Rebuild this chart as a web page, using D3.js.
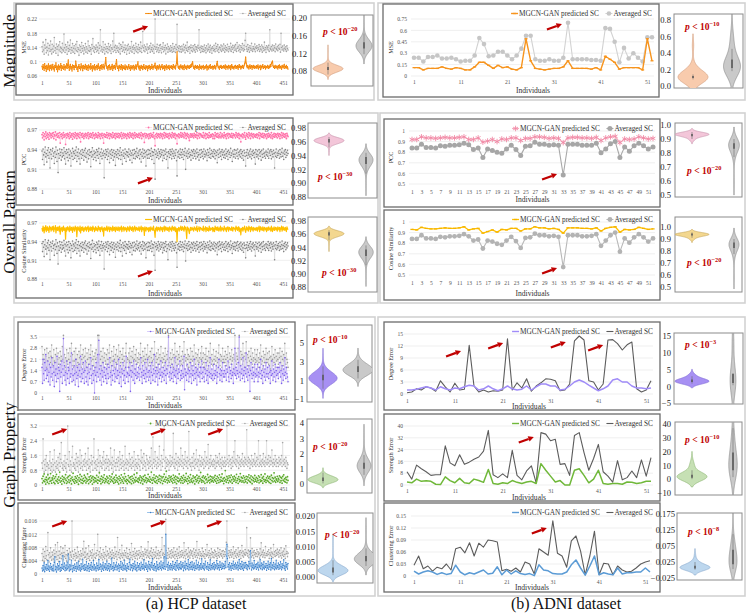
<!DOCTYPE html>
<html><head><meta charset="utf-8">
<script src="https://cdn.jsdelivr.net/npm/d3@7"></script>
<style>body{margin:0;background:#fff}svg{display:block}</style>
</head><body>
<script>
// ===================== DATA =====================
// HCP (460 individuals)
const hcpXTicks=[1,51,101,151,201,251,301,351,401,451];
const hcpMsePred=[.088,.079,.092,.084,.076,.095,.081,.087,.073,.09,.083,.078,.094,.086,.075,.089,.082,.091,.077,.085,
.093,.08,.086,.074,.09,.084,.097,.079,.088,.072,.085,.091,.078,.087,.083,.095,.076,.089,.082,.086,
.079,.092,.085,.077,.088,.083,.094,.081,.09,.105,.084,.076,.087,.093,.08,.086,.074,.091,.083,.089,
.078,.088,.084,.102,.09,.079,.085,.073,.087,.092,.081,.086,.077,.094,.083,.088,.075,.09,.082,.087,
.08,.093,.086,.078,.089,.084,.076,.091,.083,.087,.079,.095,.082,.086,.074,.089,.085,.08,.092,.077,
.086,.083,.09,.078,.087,.094,.081,.085,.076,.089,.082,.091,.079,.086,.093,.084,.08,.088,.096,.112,
.09,.082,.086,.077,.089,.083,.091,.078,.085,.08,.087,.093,.076,.088,.082,.09,.084,.079,.095,.106,
.088,.081,.086,.075,.09,.083,.087,.079,.092,.084,.077,.089,.082,.086,.08,.091,.078,.085,.088,.083,
.079,.087,.092,.081,.085,.076,.089,.084,.08,.088,.083,.09,.077,.086,.082,.091,.079,.087,.093,.1,
.085,.08,.088,.076,.084,.09,.082,.087,.078,.086,.092,.081,.085,.079,.089,.083,.087,.075,.088,.082,
.09,.084,.078,.087,.081,.093,.085,.079,.088,.083,.09,.096,.082,.086,.077,.089,.084,.08,.087,.091,
.083,.078,.088,.085,.092,.08,.086,.082,.089,.076,.087,.083,.091,.079,.085,.088,.082,.09,.078,.086,
.084,.089,.081,.087,.079,.092,.085,.083,.088,.08,.09,.097,.128,.094,.085,.082,.088,.079,.086,.091,
.083,.087,.08,.089,.084,.078,.091,.086,.082,.088,.079,.085,.09,.083,.087,.081,.089,.084,.092,.086,
.095,.1,.088,.082,.086,.079,.09,.084,.087,.081,.089,.083,.086,.078,.091,.085,.082,.088,.08,.087,
.084,.09,.079,.086,.082,.088,.083,.091,.077,.087,.085,.08,.089,.084,.092,.081,.086,.083,.088,.079,
.087,.082,.09,.085,.08,.088,.094,.101,.089,.083,.086,.079,.088,.084,.09,.081,.087,.083,.085,.089,
.082,.086,.091,.079,.088,.084,.087,.08,.09,.085,.083,.089,.078,.086,.092,.082,.087,.084,.08,.088,
.085,.09,.081,.087,.083,.089,.079,.086,.092,.084,.088,.08,.087,.083,.09,.085,.082,.089,.094,.099,
.113,.096,.088,.083,.09,.085,.08,.087,.091,.082,.086,.089,.079,.088,.084,.09,.081,.087,.085,.083,
.089,.082,.087,.091,.08,.086,.084,.09,.078,.088,.083,.087,.092,.081,.086,.084,.089,.08,.087,.085,
.083,.09,.086,.081,.088,.084,.092,.087,.095,.098,.102,.089,.084,.087,.081,.09,.085,.083,.088,.086,
.08,.089,.084,.091,.082,.087,.085,.079,.09,.086,.083,.088,.093,.081,.087,.084,.09,.082,.086,.079];
const hcpMseAvg=[.142,.128,.155,.133,.121,.147,.138,.162,.125,.141,.131,.152,.119,.137,.146,.129,.158,.134,.122,.149,
.136,.127,.144,.168,.131,.139,.124,.15,.135,.143,.118,.147,.133,.156,.128,.141,.137,.125,.152,.134,
.13,.178,.139,.126,.148,.133,.142,.121,.155,.137,.129,.146,.134,.161,.124,.14,.132,.151,.127,.138,
.145,.123,.136,.149,.131,.157,.128,.14,.135,.118,.147,.132,.143,.126,.154,.137,.13,.145,.122,.139,
.133,.151,.127,.142,.136,.124,.158,.131,.145,.129,.14,.134,.121,.148,.137,.165,.13,.143,.126,.139,
.135,.147,.128,.141,.132,.153,.124,.138,.146,.19,.13,.142,.135,.127,.156,.133,.14,.122,.149,.136,
.128,.143,.137,.125,.151,.134,.142,.13,.147,.123,.139,.135,.158,.128,.18,.141,.132,.146,.126,.138,
.144,.131,.139,.127,.152,.135,.122,.148,.137,.143,.129,.155,.133,.14,.126,.147,.134,.138,.121,.145,
.132,.149,.136,.124,.143,.138,.13,.157,.127,.141,.135,.146,.123,.139,.133,.152,.128,.142,.136,.125,
.148,.134,.14,.129,.155,.137,.126,.144,.185,.139,.131,.147,.128,.142,.136,.133,.15,.124,.141,.135,
.138,.145,.127,.152,.134,.14,.129,.147,.136,.124,.143,.22,.135,.141,.128,.149,.133,.139,.126,.146,
.131,.148,.137,.125,.142,.135,.153,.128,.14,.133,.146,.122,.139,.136,.15,.127,.143,.134,.138,.129,
.145,.132,.14,.127,.151,.136,.129,.143,.138,.126,.148,.134,.205,.141,.13,.137,.145,.128,.142,.135,
.127,.144,.136,.13,.149,.133,.141,.125,.146,.138,.132,.155,.129,.14,.135,.143,.124,.139,.147,.131,
.14,.128,.145,.136,.132,.148,.127,.142,.135,.141,.13,.146,.138,.19,.133,.14,.126,.144,.137,.129,
.143,.135,.128,.147,.132,.139,.125,.145,.136,.13,.15,.134,.141,.127,.146,.133,.138,.124,.142,.137,
.131,.146,.134,.128,.152,.137,.143,.13,.148,.135,.126,.141,.139,.133,.147,.129,.144,.136,.132,.15,
.138,.127,.145,.134,.14,.131,.149,.136,.128,.143,.137,.133,.152,.129,.141,.135,.146,.126,.139,.144,
.132,.148,.136,.129,.154,.138,.142,.131,.147,.135,.127,.145,.14,.133,.151,.137,.13,.146,.134,.16,
.18,.143,.136,.129,.148,.134,.14,.127,.145,.138,.132,.152,.136,.129,.143,.137,.134,.15,.128,.141,
.137,.145,.131,.14,.135,.148,.129,.143,.136,.133,.147,.127,.142,.138,.131,.155,.134,.14,.126,.145,
.136,.141,.133,.146,.129,.19,.138,.134,.143,.13,.147,.136,.132,.145,.139,.128,.15,.137,.134,.142,
.131,.146,.138,.135,.149,.127,.18,.14,.133,.144,.136,.13,.147,.138,.134,.142,.129,.145,.137,.133];
const hcpPccPred=[.963,.958,.966,.961,.955,.964,.96,.967,.957,.962,.965,.959,.963,.956,.966,.961,.964,.958,.962,.965,
.96,.966,.957,.963,.961,.967,.955,.962,.964,.959,.965,.961,.958,.966,.95,.963,.96,.964,.957,.962,
.966,.959,.963,.961,.948,.964,.958,.962,.965,.96,.963,.957,.966,.961,.959,.964,.962,.956,.965,.96,
.963,.958,.966,.961,.964,.957,.962,.965,.96,.963,.958,.966,.952,.962,.964,.959,.965,.961,.957,.963,
.96,.965,.962,.958,.964,.961,.966,.957,.963,.96,.965,.959,.962,.964,.958,.966,.961,.963,.957,.962,
.965,.959,.963,.961,.958,.966,.962,.96,.964,.957,.963,.961,.965,.958,.962,.95,.964,.96,.963,.959,
.962,.966,.958,.963,.961,.965,.957,.962,.964,.96,.963,.958,.966,.961,.959,.964,.962,.957,.965,.96,
.963,.959,.965,.961,.958,.964,.962,.96,.966,.957,.963,.961,.965,.958,.962,.964,.96,.963,.957,.962,
.965,.96,.963,.958,.966,.961,.964,.959,.962,.965,.957,.963,.961,.966,.958,.962,.964,.96,.963,.959,
.962,.965,.958,.963,.961,.966,.957,.962,.964,.96,.963,.951,.965,.961,.958,.964,.962,.96,.963,.957,
.964,.961,.958,.965,.962,.96,.963,.959,.966,.961,.957,.946,.963,.96,.965,.958,.962,.964,.96,.963,
.958,.965,.962,.96,.964,.957,.963,.961,.966,.958,.962,.965,.96,.963,.959,.964,.961,.957,.965,.962,
.96,.963,.958,.966,.961,.964,.959,.962,.965,.957,.963,.961,.949,.962,.96,.964,.958,.963,.961,.966,
.959,.962,.965,.96,.963,.958,.966,.961,.964,.957,.962,.965,.96,.963,.958,.954,.961,.964,.959,.962,
.964,.96,.962,.958,.965,.961,.963,.959,.962,.966,.957,.962,.961,.965,.958,.963,.964,.961,.962,.959,
.961,.966,.958,.962,.961,.965,.957,.963,.964,.959,.962,.958,.966,.961,.959,.963,.962,.96,.964,.957,
.963,.961,.957,.966,.962,.96,.964,.959,.965,.961,.958,.963,.96,.966,.958,.961,.964,.96,.962,.958,
.966,.962,.96,.963,.957,.964,.961,.965,.958,.963,.964,.96,.962,.959,.965,.961,.958,.964,.962,.961,
.963,.958,.966,.961,.964,.959,.962,.965,.957,.963,.961,.952,.962,.96,.964,.958,.963,.961,.966,.959,
.956,.962,.965,.96,.963,.958,.966,.961,.964,.957,.962,.965,.96,.963,.958,.964,.961,.96,.963,.959,
.962,.964,.958,.963,.961,.966,.957,.962,.965,.96,.963,.959,.965,.961,.958,.964,.962,.96,.963,.957,
.964,.961,.959,.965,.962,.96,.963,.958,.966,.961,.957,.963,.96,.965,.959,.962,.964,.96,.963,.958,
.965,.962,.96,.964,.957,.963,.961,.966,.958,.962,.965,.96,.963,.959,.964,.961,.957,.965,.962,.96];
const hcpPccAvg=[.938,.925,.941,.932,.917,.936,.944,.929,.934,.921,.939,.931,.943,.927,.936,.912,.94,.933,.926,.938,
.942,.93,.935,.919,.937,.928,.944,.933,.922,.939,.905,.934,.927,.941,.931,.936,.924,.94,.929,.935,
.931,.943,.926,.937,.918,.934,.94,.928,.936,.923,.941,.932,.927,.938,.915,.935,.93,.942,.925,.937,
.934,.927,.939,.931,.944,.922,.936,.93,.941,.926,.935,.918,.938,.933,.927,.94,.931,.936,.924,.939,
.93,.942,.928,.935,.921,.938,.933,.926,.94,.931,.936,.914,.937,.929,.943,.932,.925,.938,.934,.928,
.936,.923,.94,.931,.937,.927,.942,.933,.919,.936,.93,.941,.926,.935,.931,.938,.897,.934,.928,.94,
.932,.937,.925,.941,.93,.935,.92,.938,.933,.927,.94,.931,.936,.924,.939,.929,.934,.916,.937,.932,
.928,.94,.934,.926,.938,.931,.943,.925,.936,.932,.918,.939,.93,.935,.927,.941,.933,.922,.937,.931,
.936,.929,.941,.933,.924,.938,.931,.935,.92,.939,.932,.927,.94,.934,.926,.937,.93,.942,.928,.935,
.931,.938,.926,.94,.933,.921,.936,.93,.941,.927,.934,.939,.929,.936,.915,.938,.932,.927,.94,.933,
.927,.939,.934,.93,.942,.925,.937,.931,.936,.919,.94,.895,.933,.938,.928,.935,.931,.941,.926,.937,
.934,.929,.94,.932,.936,.923,.939,.931,.927,.938,.933,.941,.925,.936,.93,.912,.937,.934,.928,.94,
.932,.937,.926,.941,.934,.93,.938,.927,.935,.931,.94,.923,.9,.936,.929,.938,.933,.927,.941,.932,
.936,.928,.94,.933,.925,.937,.931,.942,.91,.935,.93,.938,.927,.934,.941,.929,.936,.932,.924,.939,
.931,.937,.927,.94,.934,.93,.938,.926,.935,.941,.929,.936,.932,.924,.939,.933,.928,.94,.935,.93,
.937,.926,.941,.933,.929,.938,.932,.935,.923,.94,.931,.936,.928,.942,.933,.927,.939,.934,.93,.937,
.929,.94,.934,.926,.938,.931,.936,.92,.939,.933,.928,.941,.935,.93,.937,.925,.94,.932,.936,.928,
.938,.932,.927,.941,.934,.93,.937,.925,.939,.933,.936,.928,.942,.931,.935,.922,.938,.933,.929,.94,
.933,.927,.939,.935,.93,.941,.926,.936,.932,.938,.929,.94,.934,.927,.937,.931,.924,.939,.935,.93,
.915,.936,.931,.94,.927,.935,.932,.938,.929,.941,.933,.926,.937,.931,.939,.934,.928,.936,.918,.94,
.933,.929,.938,.932,.926,.94,.935,.93,.937,.924,.939,.933,.928,.941,.934,.93,.936,.927,.938,.932,
.936,.93,.941,.927,.935,.938,.931,.94,.926,.937,.933,.929,.939,.934,.912,.936,.93,.941,.928,.935,
.931,.938,.934,.927,.94,.933,.929,.936,.942,.93,.935,.925,.938,.933,.94,.928,.936,.931,.939,.934];
const hcpCosPred=[.962,.957,.965,.96,.954,.963,.959,.966,.956,.961,.964,.958,.962,.955,.965,.96,.963,.957,.961,.964,
.959,.965,.956,.962,.96,.966,.954,.961,.963,.958,.964,.96,.957,.965,.952,.962,.959,.963,.956,.961,
.965,.958,.962,.96,.944,.963,.957,.961,.964,.959,.962,.956,.965,.96,.958,.963,.961,.955,.964,.959,
.962,.957,.965,.96,.963,.948,.961,.964,.959,.962,.957,.965,.954,.961,.963,.958,.964,.96,.956,.962,
.959,.964,.961,.957,.963,.96,.965,.956,.962,.959,.964,.958,.961,.963,.957,.965,.96,.962,.956,.961,
.964,.958,.962,.96,.957,.965,.961,.959,.963,.956,.962,.96,.964,.957,.961,.949,.963,.959,.962,.958,
.961,.965,.957,.962,.96,.964,.956,.961,.963,.959,.962,.957,.965,.96,.958,.963,.961,.956,.964,.959,
.962,.958,.964,.96,.957,.963,.961,.959,.965,.956,.962,.96,.964,.957,.961,.963,.959,.962,.956,.961,
.964,.959,.962,.957,.965,.96,.963,.958,.961,.964,.956,.962,.96,.965,.957,.961,.963,.959,.962,.958,
.961,.964,.957,.962,.96,.965,.956,.961,.963,.959,.962,.95,.964,.96,.957,.963,.961,.959,.962,.956,
.963,.96,.957,.964,.961,.959,.962,.958,.965,.96,.956,.947,.962,.959,.964,.957,.961,.963,.959,.962,
.957,.964,.961,.959,.963,.956,.962,.96,.965,.957,.961,.964,.959,.962,.958,.963,.96,.956,.964,.961,
.959,.962,.957,.965,.96,.963,.958,.961,.964,.956,.962,.96,.94,.961,.959,.963,.957,.962,.96,.965,
.958,.961,.964,.959,.962,.957,.965,.96,.963,.956,.945,.964,.959,.962,.957,.953,.96,.963,.958,.961,
.963,.959,.961,.957,.964,.96,.962,.958,.961,.965,.956,.961,.96,.964,.957,.962,.963,.96,.961,.958,
.96,.965,.957,.961,.96,.964,.956,.962,.963,.958,.961,.957,.965,.96,.958,.962,.961,.959,.963,.956,
.962,.96,.956,.965,.961,.959,.963,.958,.964,.96,.957,.962,.959,.965,.957,.96,.963,.959,.961,.957,
.965,.961,.959,.962,.956,.963,.96,.964,.957,.962,.963,.959,.961,.958,.964,.96,.957,.963,.961,.96,
.962,.957,.965,.96,.963,.958,.961,.964,.956,.962,.96,.951,.961,.959,.963,.957,.962,.96,.965,.958,
.955,.961,.964,.959,.962,.957,.965,.96,.963,.956,.962,.964,.959,.962,.957,.963,.96,.959,.962,.958,
.961,.963,.957,.962,.96,.965,.956,.961,.964,.959,.962,.958,.964,.96,.957,.963,.961,.959,.962,.956,
.963,.96,.958,.964,.961,.959,.962,.957,.965,.96,.956,.962,.959,.964,.958,.961,.963,.959,.962,.957,
.964,.961,.959,.963,.956,.962,.96,.965,.957,.961,.964,.959,.962,.958,.963,.96,.956,.964,.961,.959];
const hcpCosAvg=[.937,.924,.94,.931,.916,.935,.943,.928,.933,.92,.938,.93,.942,.926,.935,.911,.939,.932,.925,.937,
.941,.929,.934,.918,.936,.927,.943,.932,.921,.938,.904,.933,.926,.94,.93,.935,.923,.939,.928,.934,
.93,.942,.925,.936,.917,.933,.939,.927,.935,.922,.94,.931,.926,.937,.914,.934,.929,.941,.924,.936,
.933,.926,.938,.93,.943,.921,.935,.929,.94,.925,.934,.917,.937,.932,.926,.939,.93,.935,.923,.938,
.929,.941,.927,.934,.92,.937,.932,.925,.939,.93,.935,.913,.936,.928,.942,.931,.924,.937,.933,.927,
.935,.922,.939,.93,.936,.926,.941,.932,.918,.935,.929,.94,.925,.934,.93,.937,.896,.933,.927,.939,
.931,.936,.924,.94,.929,.934,.919,.937,.932,.926,.939,.93,.935,.923,.938,.928,.933,.915,.936,.931,
.927,.939,.933,.925,.937,.93,.942,.924,.935,.931,.917,.938,.929,.934,.926,.94,.932,.921,.936,.93,
.935,.928,.94,.932,.923,.937,.93,.934,.919,.938,.931,.926,.939,.933,.925,.936,.929,.941,.927,.934,
.93,.937,.925,.939,.932,.92,.935,.929,.94,.926,.933,.938,.928,.935,.914,.937,.931,.926,.939,.932,
.926,.938,.933,.929,.941,.924,.936,.93,.935,.918,.939,.894,.932,.937,.927,.934,.93,.94,.925,.936,
.933,.928,.939,.931,.935,.922,.938,.93,.926,.937,.932,.94,.924,.935,.929,.911,.936,.933,.927,.939,
.931,.936,.925,.94,.933,.929,.937,.926,.934,.93,.939,.922,.899,.935,.928,.937,.932,.926,.94,.931,
.935,.927,.939,.932,.924,.936,.93,.941,.909,.934,.929,.937,.926,.933,.94,.928,.935,.931,.923,.938,
.93,.936,.926,.939,.933,.929,.937,.925,.934,.94,.928,.935,.931,.923,.938,.932,.927,.939,.934,.929,
.936,.925,.94,.932,.928,.937,.931,.934,.922,.939,.93,.935,.927,.941,.932,.926,.938,.933,.929,.936,
.928,.939,.933,.925,.937,.93,.935,.919,.938,.932,.927,.94,.934,.929,.936,.924,.939,.931,.935,.927,
.937,.931,.926,.94,.933,.929,.936,.924,.938,.932,.935,.927,.941,.93,.934,.921,.937,.932,.928,.939,
.932,.926,.938,.934,.929,.94,.925,.935,.931,.937,.928,.939,.933,.926,.936,.93,.923,.938,.934,.929,
.914,.935,.93,.939,.926,.934,.931,.937,.928,.94,.932,.925,.936,.93,.938,.933,.927,.935,.917,.939,
.932,.928,.937,.931,.925,.939,.934,.929,.936,.923,.938,.932,.927,.94,.933,.929,.935,.926,.937,.931,
.935,.929,.94,.926,.934,.937,.93,.939,.925,.936,.932,.928,.938,.933,.911,.935,.929,.94,.927,.934,
.93,.937,.933,.926,.939,.932,.928,.935,.941,.929,.934,.924,.937,.932,.939,.927,.935,.93,.938,.933];
const hcpDegPred=[1.6,.6,2.1,1.2,.8,1.9,1.4,2.4,.9,1.5,1.1,2,.7,1.3,1.8,.5,1.6,1,2.2,1.2,
.8,1.7,1.3,.4,1.9,1.1,1.5,.7,2.3,1.2,.9,1.6,1.4,.1,1.8,1,1.3,2,.6,1.5,
3.4,1.1,1.7,.8,1.3,.5,2,1.2,.9,1.6,1.4,.6,1.9,1,1.2,2.5,.7,1.5,1.1,.8,
1.7,1.2,.5,2.1,1.3,.9,1.6,1.1,.4,1.8,1.4,1,2.3,.7,1.2,1.5,.9,1.9,1.3,.6,
1.4,2,1,.7,1.6,1.2,.5,1.8,1.3,.9,1.5,2.2,1.1,.6,1.7,1.2,.8,1.4,0,1.6,
1.1,1.9,.7,1.3,2.4,1,3.3,1.5,.8,1.2,1.7,.5,1.4,1,1.9,.7,1.3,1.6,1.1,.9,
1.5,.6,1.8,1.2,.9,1.6,2.2,1,1.3,.5,1.7,1.1,.8,1.4,2,1.2,.7,1.5,1,1.8,
.9,1.4,1.1,2.1,.6,1.3,1.7,1,.4,1.5,1.2,1.9,.8,1.4,1.1,.6,1.6,2.3,1,1.3,
1.2,.7,1.6,1.1,1.9,.1,1.4,1,1.7,1.3,.8,2,1.2,.6,1.5,1.1,1.8,.9,1.3,1,
1.6,1.2,.8,1.5,2.2,1,1.3,.6,1.7,1.1,1.4,.9,1.9,1.2,.7,1.5,1,2.1,1.3,.8,
1.4,1,1.7,.6,1.3,1.9,1.1,.8,1.5,1.2,2.4,.7,1.4,1,1.6,1.2,.5,1.8,1.3,.9,
1.5,1.1,2,.7,1.3,1,1.6,1.2,.8,1.4,1.9,1.1,.6,1.5,1.2,1.7,3.5,1,1.3,.8,
1.6,1.2,.9,1.8,1.3,.7,1.5,1.1,2.2,1,1.4,.6,1.7,1.2,.9,1.5,1.3,2,.8,1.1,
1.4,.9,1.7,1.2,1,2.3,.2,1.5,1.1,1.3,.8,1.8,1.2,1.5,.7,1.4,1,1.9,1.2,.6,
1.7,1.1,1.4,.8,2.1,1.2,.9,1.6,1.3,.5,1.5,1.1,1.8,1,1.3,.7,1.6,1.2,2,.9,
1.3,1.6,1,.7,1.5,1.2,1.9,.8,1.4,1.1,.6,1.7,1.3,1,2.2,1.2,.9,1.5,1.1,.8,
1.8,1.2,.9,1.4,1.1,1.7,.6,1.3,1,1.6,2.1,1.2,.8,1.5,1.1,1.4,.7,1.9,1.2,1,
1.4,1,1.7,1.2,.8,1.5,1.3,2,1,.7,1.6,1.2,1.4,.9,1.8,1.1,1.3,.6,1.5,1.2,
2.8,1.1,1.6,.9,1.4,1.2,1.9,1,3.5,1.3,.8,1.7,1.2,1.5,.9,2.2,1.1,1.4,.7,1.6,
1.2,2.5,1,1.5,.8,1.3,1.7,1.1,.1,1.4,1.9,1.2,.9,1.6,1.1,1.3,.7,1.8,1.2,1,
1.5,1.1,1.8,.7,1.3,1,1.6,1.2,2.1,.9,1.4,1.1,.6,1.7,1.3,1,1.5,.8,1.9,1.2,
1,1.6,1.2,.9,1.7,1.3,.6,1.4,1.1,2,1.2,.8,1.5,1,1.3,1.8,.7,1.4,1.1,1.6,
1.2,.9,1.6,1.3,1.9,1,1.4,.6,1.7,1.2,.8,1.5,1.1,2.2,1.3,.9,1.6,1.2,1,.7];
const hcpDegAvg=[2.9,1.8,2.4,1.5,2.1,2.7,1.9,2.3,1.6,2.8,2,1.4,2.5,2.2,1.7,2.6,1.9,2.3,3,1.8,
2.2,1.6,2.7,2,1.3,2.4,1.9,2.8,1.5,2.1,2.5,1.8,2.2,1.2,2.6,2,2.3,1.7,2.9,2.1,
3.6,1.9,2.4,1.6,2.2,1.4,2.7,2,1.8,2.5,2.1,1.5,2.8,1.9,2.3,3.1,1.7,2.4,2,1.6,
2.6,2,1.4,2.8,2.1,1.7,2.4,1.9,1.2,2.6,2.2,1.8,3,1.6,2.1,2.4,1.8,2.7,2.2,1.5,
2.3,2.8,1.9,1.6,2.5,2.1,1.4,2.7,2.2,1.8,2.4,3,2,1.5,2.6,2.1,1.7,2.3,1.3,2.5,
2.1,2.7,1.6,2.2,3.6,1.9,3.6,2.4,1.7,2.1,2.6,1.5,2.3,1.9,2.8,1.6,2.2,2.5,2,1.8,
2.4,1.5,2.7,2.1,1.8,2.5,3,1.9,2.2,1.4,2.6,2,1.7,2.3,2.9,2.1,1.6,2.4,1.9,2.7,
1.8,2.3,2,3,1.5,2.2,2.6,1.9,1.3,2.4,2.1,2.8,1.7,2.3,2,1.5,2.5,3.1,1.9,2.2,
2.1,1.6,2.5,2,2.8,1.4,2.3,1.9,2.6,2.2,1.7,2.9,2.1,1.5,2.4,2,2.7,1.8,2.2,1.9,
2.5,2.1,1.7,2.4,3.1,1.9,2.2,1.5,2.6,2,2.3,1.8,2.8,2.1,1.6,2.4,1.9,3,2.2,1.7,
2.3,1.9,2.6,1.5,2.2,2.8,2,1.7,2.4,2.1,3.2,1.6,2.3,1.9,2.5,2.1,1.4,2.7,2.2,1.8,
2.4,2,2.9,1.6,2.2,1.9,2.5,2.1,1.7,2.3,2.8,2,1.5,2.4,2.1,2.6,3.6,1.9,2.2,1.7,
2.5,2.1,1.8,2.7,2.2,1.6,2.4,2,3.1,1.9,2.3,1.5,2.6,2.1,1.8,2.4,2.2,2.9,1.7,2,
2.3,1.8,2.6,2.1,1.9,3.2,1.5,2.4,2,2.2,1.7,2.7,2.1,2.4,1.6,2.3,1.9,2.8,2.1,1.5,
2.6,2,2.3,1.7,3,2.1,1.8,2.5,2.2,1.4,2.4,2,2.7,1.9,2.2,1.6,2.5,2.1,2.9,1.8,
2.2,2.5,1.9,1.6,2.4,2.1,2.8,1.7,2.3,2,1.5,2.6,2.2,1.9,3.1,2.1,1.8,2.4,2,1.7,
2.7,2.1,1.8,2.3,2,2.6,1.5,2.2,1.9,2.5,3,2.1,1.7,2.4,2,2.3,1.6,2.8,2.1,1.9,
2.3,1.9,2.6,2.1,1.7,2.4,2.2,2.9,1.9,1.6,2.5,2.1,2.3,1.8,2.7,2,2.2,1.5,2.4,2.1,
3.6,2,2.5,1.8,2.3,2.1,2.8,1.9,3.6,2.2,1.7,2.6,2.1,2.4,1.8,3.1,2,2.3,1.6,2.5,
2.1,3.2,1.9,2.4,1.7,2.2,2.6,2,1.5,2.3,2.8,2.1,1.8,2.5,2,2.2,1.6,2.7,2.1,1.9,
2.4,2,2.7,1.6,2.2,1.9,2.5,2.1,3,1.8,2.3,2,1.5,2.6,2.2,1.9,2.4,1.7,2.8,2.1,
1.9,2.5,2.1,1.8,2.6,2.2,1.5,2.3,2,2.9,2.1,1.7,2.4,1.9,2.2,2.7,1.6,2.3,2,2.5,
2.1,1.8,2.5,2.2,2.8,1.9,2.3,1.5,2.6,2.1,1.7,2.4,2,3.1,2.2,1.8,2.5,2.1,1.9,1.6];
const hcpStrPred=[.35,.12,.48,.22,.6,.18,.3,.05,.42,.27,.15,.55,.33,.08,.4,.2,.62,.25,.1,.38,
.28,.5,.14,.36,.07,.45,.24,.58,.19,.32,.1,.44,.26,.7,.16,.37,.22,.05,.48,.3,
.2,.41,.12,.33,.56,.25,.09,.39,.17,.46,.28,.13,.52,.22,.35,.06,.43,.27,.64,.18,
.31,.1,.45,.23,.37,.15,.5,.28,.04,.4,.21,.57,.3,.12,.47,.26,.09,.36,.19,.53,
.24,.42,.11,.34,.2,.6,.27,.08,.44,.31,.16,.5,.23,.38,.05,.46,.29,.14,.4,.22,
.36,.18,.52,.27,.1,.43,.25,.66,.21,.34,.07,.48,.3,.15,.41,.24,.55,.12,.35,.2,
.29,.46,.13,.38,.22,.08,.5,.32,.17,.44,.26,.6,.19,.35,.1,.42,.28,.15,.53,.24,
.4,.16,.33,.06,.47,.25,.37,.12,.55,.28,.2,.43,.1,.34,.62,.23,.45,.18,.3,.08,
.26,.51,.19,.39,.14,.44,.3,.07,.48,.22,.36,.12,.57,.27,.17,.41,.24,.65,.2,.33,
.15,.38,.27,.5,.11,.42,.23,.34,.06,.46,.29,.18,.53,.25,.4,.13,.35,.22,.58,.3,
.21,.44,.16,.32,.7,.26,.1,.4,.28,.55,.19,.37,.14,.48,.24,.09,.43,.31,.2,.52,
.33,.13,.47,.25,.39,.08,.45,.21,.59,.3,.17,.42,.75,.27,.12,.36,.23,.5,.16,.4,
.28,.46,.2,.35,.11,.54,.26,.4,.15,.48,.3,.07,.43,.22,.37,.18,.6,.25,.33,.12,
.45,.24,.38,.1,.52,.29,.17,.41,.26,.63,.2,.34,.08,.47,.23,.39,.14,.56,.28,.19,
.36,.13,.49,.22,.4,.06,.44,.3,.18,.53,.25,.37,.11,.46,.21,.35,.68,.27,.15,.42,
.24,.5,.17,.38,.09,.45,.28,.33,.14,.57,.22,.41,.26,.12,.48,.3,.19,.44,.23,.36,
.16,.43,.27,.52,.2,.35,.1,.47,.25,.39,.13,.55,.29,.18,.42,.24,.6,.21,.34,.08,
.4,.22,.78,.31,.15,.46,.26,.37,.12,.5,.23,.41,.17,.54,.28,.1,.44,.33,.2,.48,
.27,.39,.14,.58,.24,.35,.09,.45,.3,.19,.62,.25,.42,.16,.37,.22,.5,.13,.4,.28,
.18,.47,.32,.11,.44,.26,.55,.2,.38,.15,.49,.29,.07,.43,.24,.36,.17,.52,.3,.21,
.41,.16,.35,.25,.5,.12,.43,.28,.19,.56,.23,.38,.1,.46,.3,.2,.6,.27,.14,.39,
.25,.48,.2,.37,.13,.45,.31,.09,.53,.24,.4,.17,.35,.66,.22,.42,.15,.33,.27,.47,
.19,.36,.28,.5,.14,.43,.23,.38,.1,.47,.26,.55,.2,.34,.16,.41,.29,.12,.45,.25];
const hcpStrAvg=[1.2,.9,2.5,1.3,.7,1.1,1.4,.8,1.6,1,1.2,.6,1.1,.9,1.3,1.8,.8,1.2,1,.7,
1.4,1.1,.8,1.9,1.2,.7,1,1.3,.9,1.1,1.5,.8,1.2,1.7,1,1.4,2.3,1.2,.9,1.1,
.8,1.3,1,1.6,.9,1.2,.7,1.4,3.2,1.1,1,1.8,.8,1.3,1.1,.7,1.5,2.1,1,1.2,
1.1,.9,1.4,.8,1.7,1.2,1,1.5,.7,1.3,1.1,1.9,.9,1.2,1.6,1,.8,1.3,1.1,1.4,
1,1.7,1.2,.8,1.3,1.1,2,.9,1.4,1,.7,1.2,1.6,1.1,1.3,.8,1.5,2.5,1.2,.9,
1.3,1.1,.8,1.4,1,1.9,1.2,.7,1.6,1.3,1,1.2,.9,1.5,1.1,1.8,1.3,.8,1.2,1.4,
.9,1.6,1.2,1,1.4,.8,1.3,1.1,2,1.2,.9,1.5,1.1,.7,1.3,1.9,1,1.2,.8,1.4,
1.2,1,1.5,1.3,.8,1.8,1.1,1.4,.9,1.2,1.6,1,1.3,.8,1.1,2.1,1.2,.9,1.4,1.1,
1.3,.8,1.2,1.7,1,1.4,1.1,.9,1.5,1.2,1,1.3,1.8,.8,1.1,1.4,1,1.2,.9,1.6,
1.1,1.4,1,.8,1.3,1.9,1.2,1.5,.9,1.1,1.7,1.3,1,1.2,.8,1.6,1.4,1.1,1.3,.9,
1.2,1.5,1,1.3,2,1.1,.9,2.6,1.2,1.4,1,1.8,1.3,1.1,.9,1.5,1.2,1,1.4,2.1,
1.1,1.3,.8,1.6,1.2,1,1.4,1.9,3.2,1.3,.9,1.5,1.2,1,1.4,1.1,1.3,.8,1.2,1.6,
1,1.3,1.1,1.5,1.2,2.8,1,1.4,.9,1.2,1.7,1.1,1.3,.8,1.5,1.2,1,1.4,1.1,2,
1.3,1,1.6,1.2,.9,1.4,1.1,1.8,1.3,1,1.2,1.5,.9,1.3,2.9,1.1,1.4,1,1.2,.8,
1.5,1.2,1,1.7,1.3,.9,1.4,1.1,1.9,1.2,1,1.4,1.3,.8,1.6,1.1,1.3,1,1.5,1.2,
1.1,1.4,.9,1.3,1.8,1,1.2,1.5,1.1,1.3,2.2,.9,1.2,1.4,1,1.6,1.2,1.1,1.3,1,
1.4,1.1,1.3,.9,1.6,1.2,1,1.5,1.2,1.3,1.1,1.7,1,1.4,1.2,.9,1.5,1.1,1.3,1,
1.2,1.5,1,1.3,1.1,3.2,1.4,1.2,1,1.6,1.3,1.1,1.4,.9,1.2,1.5,1,1.3,1.8,1.2,
2.4,1.1,1.4,1,1.3,1.6,1.2,.9,1.5,1.1,1.3,1,1.4,1.2,1.7,1.1,1.3,1,1.5,1.2,
1.4,1.1,3,1.3,1,1.5,1.2,1.4,.9,1.3,1.1,1.6,1.2,1,1.4,1.3,1.1,1.7,1.2,1,
1.3,1.5,1.1,1.4,2.4,1,1.2,1.6,1.1,1.3,1,1.4,1.2,1.7,1.1,1.3,1,1.5,1.2,2.4,
1.1,1.4,1.2,1.6,1,1.3,1.5,1.1,1.3,1.9,1.2,1,1.4,1.2,1.1,1.6,1.3,1,1.4,1.2,
1.2,1,1.5,1.3,1.1,1.4,1.2,1.6,1,2.3,1.3,1.1,1.4,1.2,1,1.5,1.3,.9,1.2,1.1];
const hcpCluPred=[.0018,.0009,.0026,.0012,.0034,.0007,.0021,.0015,.0029,.0011,.0017,.0041,.0013,.0024,.0008,.0019,.0032,.0014,.0022,.001,
.0016,.0027,.0009,.0035,.0052,.0013,.0023,.0006,.0019,.0031,.0012,.0025,.0015,.0038,.0008,.002,.0011,.0029,.0017,.0055,
.0014,.0022,.0033,.001,.0018,.0027,.0012,.0036,.0016,.006,.0021,.0009,.0028,.0013,.0024,.0042,.0015,.0007,.0026,.0019,
.0011,.003,.0017,.0023,.0008,.0034,.0015,.0021,.0039,.0012,.0026,.0018,.0009,.0031,.0014,.0022,.0045,.0016,.0025,.0011,
.0029,.0013,.0019,.0037,.001,.0024,.0016,.0032,.0008,.002,.0027,.0014,.0035,.0011,.0023,.0018,.0041,.0012,.0028,.0016,
.0021,.0009,.0033,.0017,.0026,.0012,.0044,.0019,.0014,.003,.0022,.0008,.0027,.0015,.0036,.0011,.0024,.0019,.0031,.0013,
.0018,.0039,.0011,.0025,.0016,.0032,.0009,.0022,.0028,.0014,.0048,.0017,.0023,.001,.0034,.0019,.0013,.0027,.0021,.0036,
.0012,.0024,.0017,.003,.0008,.0026,.0019,.0038,.0014,.0021,.0033,.0011,.0027,.0016,.0042,.0013,.0025,.0018,.0009,.0031,
.0017,.0023,.0014,.0035,.0045,.0012,.0028,.0019,.0026,.001,.0032,.0016,.0022,.0039,.0013,.0027,.0018,.0009,.0034,.002,
.0025,.0013,.0031,.0018,.0011,.0036,.0022,.0015,.0029,.0017,.0043,.0012,.0024,.002,.0033,.0014,.0027,.0008,.0021,.0038,
.0016,.0029,.0012,.0024,.0035,.0019,.0047,.0014,.0026,.0011,.0031,.0018,.0023,.0009,.0037,.0015,.0028,.002,.0013,.0033,
.0022,.0017,.0039,.0012,.0027,.0019,.0034,.0016,.0052,.0023,.0014,.012,.0048,.0021,.0029,.0011,.0036,.0018,.0025,.0013,
.0031,.0019,.0026,.0012,.0038,.0017,.0022,.0029,.0014,.0035,.0011,.0024,.0041,.0018,.0027,.0013,.0032,.002,.0016,.0037,
.0015,.0028,.0021,.0034,.001,.0025,.0018,.0039,.0013,.0026,.0032,.0016,.0023,.0044,.0012,.0029,.0019,.0035,.0014,.0022,
.0037,.0013,.0027,.0019,.0033,.0011,.0024,.0017,.0042,.0015,.0028,.002,.0036,.0012,.0025,.0018,.0031,.0014,.0046,.0019,
.0024,.0016,.0032,.0012,.0027,.0039,.0018,.0023,.0014,.0034,.0021,.0011,.0029,.0017,.0043,.0013,.0026,.0019,.0031,.0015,
.0022,.0035,.0013,.0028,.0018,.0024,.0041,.0015,.0031,.0019,.0026,.0012,.0037,.002,.0027,.0014,.0033,.0017,.0023,.003,
.0016,.0025,.0038,.0019,.0054,.009,.0047,.0021,.0029,.0013,.0034,.0018,.0024,.0011,.0032,.0017,.0026,.0039,.0014,.0028,
.0021,.0033,.0015,.0027,.0019,.0036,.0012,.0025,.0044,.0017,.0031,.0014,.0022,.0038,.0016,.0028,.0011,.0034,.0019,.0024,
.0035,.0017,.0029,.0013,.0026,.0022,.0038,.0016,.0031,.007,.0024,.0012,.0033,.0019,.0027,.0015,.0041,.0018,.0023,.0029,
.0014,.0031,.0019,.0036,.0012,.0027,.0021,.0044,.0016,.0025,.0033,.0013,.0029,.0018,.0037,.0015,.0024,.002,.0032,.0011,
.0026,.0018,.0039,.0014,.0029,.0021,.0034,.0012,.0047,.0019,.0027,.0016,.0035,.0023,.0013,.003,.0018,.0042,.0015,.0025,
.002,.0033,.0014,.0028,.0017,.0037,.0022,.0013,.0031,.0019,.0026,.0043,.0016,.0024,.0011,.0035,.0021,.0029,.0015,.0032];
const hcpCluAvg=[.0062,.0041,.0075,.0052,.0038,.0068,.0047,.0083,.0055,.0043,.0071,.0125,.0058,.0036,.0064,.0049,.0079,.0053,.0042,.0066,
.0057,.0045,.0072,.0039,.0061,.0088,.0051,.0067,.0044,.0095,.0056,.0037,.0069,.0048,.0059,.0082,.0046,.0063,.0054,.0078,
.0043,.0065,.0052,.0086,.0047,.0058,.0039,.0071,.0055,.0062,.0048,.0077,.0044,.0066,.0057,.0051,.016,.0069,.0046,.0059,
.0053,.0074,.0041,.0063,.0056,.0048,.0081,.0052,.0067,.0038,.0059,.0045,.007,.0054,.0062,.0043,.0076,.0057,.0099,.0049,
.0066,.0051,.0078,.0044,.0058,.0062,.0047,.0085,.0053,.0041,.0069,.0056,.0064,.0048,.0073,.0055,.0042,.006,.0089,.005,
.0047,.0063,.0055,.0071,.012,.0058,.0044,.0067,.0052,.0079,.0048,.0061,.0056,.0043,.0074,.0051,.0065,.0046,.0058,.0083,
.0054,.0042,.0069,.0057,.0062,.0048,.0076,.0053,.0066,.0045,.0059,.0072,.0049,.0064,.0055,.0047,.0081,.006,.0052,.0068,
.0044,.011,.0058,.0065,.005,.0073,.0046,.0061,.0055,.0087,.0049,.0063,.0057,.0042,.0071,.0056,.0064,.0051,.0078,.0047,
.0062,.0053,.0046,.0074,.0058,.0065,.0049,.0092,.0056,.0044,.0068,.0059,.0052,.0077,.0047,.0063,.0055,.0069,.0045,.006,
.0057,.0071,.0048,.0064,.0053,.0082,.0059,.0046,.0067,.0054,.0061,.0043,.0075,.0058,.0066,.0049,.0072,.0055,.0097,.0051,
.0063,.0047,.0069,.0056,.0078,.0052,.0065,.0045,.0073,.0058,.0049,.0066,.0054,.0081,.0047,.0062,.0057,.0071,.0046,.0064,
.0055,.0068,.0049,.0074,.011,.0057,.0063,.0048,.0085,.0059,.0052,.0165,.0071,.0056,.0064,.0047,.0077,.0058,.0051,.0069,
.0062,.0048,.0073,.0055,.0066,.0051,.0079,.0057,.0046,.0068,.0059,.0053,.0075,.0047,.0063,.0056,.0082,.0049,.0067,.0058,
.0052,.0071,.0057,.0064,.0049,.0094,.0055,.0068,.0046,.0073,.0058,.0062,.0051,.0079,.0054,.0066,.0048,.0072,.0057,.0063,
.0069,.0054,.0047,.0076,.0058,.0065,.0051,.0072,.0056,.0098,.0049,.0063,.0057,.0074,.0046,.0067,.0055,.0061,.0052,.0078,
.0056,.0068,.0052,.0061,.0047,.0073,.0059,.0054,.0089,.0057,.0064,.0049,.0071,.0055,.0062,.0048,.0076,.0058,.0066,.0051,
.0064,.0049,.0072,.0057,.0068,.0053,.0061,.0047,.0078,.0056,.0065,.0051,.0074,.0058,.0062,.0054,.0069,.0048,.0071,.0059,
.0053,.0067,.0058,.0075,.0096,.016,.0084,.0062,.0055,.0071,.0049,.0066,.0057,.0073,.0051,.0064,.0058,.0082,.0047,.0063,
.0068,.0054,.0073,.0049,.0062,.0057,.0079,.0052,.0066,.0058,.0071,.0047,.0064,.0086,.0055,.0069,.0051,.0063,.0058,.0074,
.0057,.0065,.014,.0062,.0054,.0072,.0049,.0068,.0059,.0109,.0063,.0051,.0077,.0056,.0066,.0048,.0071,.0058,.0064,.0053,
.0061,.0074,.0052,.0067,.0058,.0063,.0048,.0076,.0055,.0094,.0059,.0066,.0051,.0072,.0057,.0064,.0049,.0083,.0056,.0062,
.0055,.0068,.0059,.0073,.0047,.0064,.0057,.0078,.0052,.0066,.0061,.0049,.0089,.0058,.0067,.0053,.0071,.0056,.0063,.0075,
.0058,.0066,.0051,.0072,.0062,.0055,.0079,.0048,.0064,.0057,.0069,.0053,.0076,.0059,.0047,.0085,.0061,.0068,.0052,.0063];

// ADNI (52 individuals)
const adniXTicks=[1,11,21,31,41,51];
const adniXTicksOdd=[1,3,5,7,9,11,13,15,17,19,21,23,25,27,29,31,33,35,37,39,41,43,45,47,49,51];
const adniMsePred=[.11,.11,.08,.1,.1,.1,.12,.1,.09,.11,.1,.08,.08,.12,.18,.18,.14,.1,.14,.11,.12,.09,.08,.11,.49,.2,.1,.09,.08,.09,.1,.1,.12,.2,.1,.1,.1,.1,.09,.11,.08,.26,.22,.18,.09,.11,.11,.11,.11,.08,.49,.2];
const adniMseAvg=[.24,.24,.19,.25,.25,.27,.23,.23,.24,.22,.19,.2,.2,.27,.5,.42,.26,.27,.32,.32,.27,.22,.27,.36,.53,.53,.22,.2,.2,.22,.2,.2,.24,.7,.22,.22,.22,.22,.21,.21,.2,.63,.62,.45,.18,.37,.23,.3,.24,.19,.51,.51];
const adniPccPred=[.92,.92,.945,.935,.935,.93,.935,.94,.935,.935,.94,.945,.92,.92,.935,.895,.905,.92,.9,.925,.92,.935,.935,.91,.93,.93,.945,.945,.94,.93,.935,.93,.89,.935,.94,.94,.935,.935,.93,.94,.91,.935,.945,.95,.89,.925,.92,.925,.945,.935,.925,.93];
const adniPccAvg=[.84,.84,.875,.845,.845,.84,.86,.855,.865,.865,.87,.885,.87,.825,.84,.75,.83,.815,.8,.79,.83,.865,.825,.77,.855,.86,.895,.875,.875,.865,.87,.865,.585,.875,.875,.875,.865,.865,.865,.885,.795,.83,.88,.9,.75,.85,.81,.86,.885,.86,.83,.85];
const adniCosPred=[.93,.925,.95,.94,.935,.935,.94,.945,.94,.94,.945,.955,.925,.935,.94,.895,.91,.925,.905,.93,.925,.94,.94,.915,.935,.935,.955,.945,.945,.935,.94,.93,.895,.945,.945,.945,.94,.94,.935,.945,.915,.94,.95,.955,.905,.93,.925,.93,.95,.94,.93,.935];
const adniCosAvg=[.84,.84,.875,.845,.845,.84,.86,.855,.865,.865,.87,.885,.865,.825,.835,.75,.825,.815,.795,.785,.825,.86,.82,.755,.85,.855,.89,.875,.875,.865,.87,.86,.575,.875,.875,.875,.865,.865,.87,.885,.775,.825,.875,.9,.72,.845,.805,.855,.885,.855,.815,.845];
const adniDegPred=[1,1,1.2,1.5,1.8,1.5,1,1.8,1.3,1,1.5,1.3,1.8,2.2,2,1,1.3,2,1.3,.8,1.3,2,1.3,1,1.2,2,1,1.8,2.5,2.5,2,2,1,1.2,2,3,3.5,3,2.2,1.5,.8,1.3,2,3.5,3.8,3,3,2,1.5,1.5,1.3,1.5];
const adniDegAvg=[.3,.5,1.3,1,1.8,1.5,.7,3.3,1.8,.5,2.7,1,1.2,12.2,2,.5,1,.5,.8,.7,1,13.8,1,2.8,1.5,3.8,.7,2,2.8,3.8,3.7,3.3,.8,1,2.5,13.3,14.5,13.5,3.3,3,1,2.5,13.5,13.6,12.6,11,12.3,13,1.3,.5,1,3.3];
const adniStrPred=[2,1.5,4,2.5,2.8,2.5,.5,.3,5.5,3,1.5,4.5,1.5,1,4,3,1.8,10.5,1,.5,1.5,1,3,1.8,1,2,2.5,1,14.5,10,6,2,3,0,0,10,11,6.5,1.5,4,10,1,.5,1,1,.5,2,1.8,1,1.5,2.5,2.5];
const adniStrAvg=[9,4,13.5,11,9,6.5,7,7,26.5,15,13,20.5,14,15.5,17.5,19,23,37,7,5,7.5,5,23.5,6.5,3.5,9.5,13,1.5,35.5,34.5,30,31,14,14.5,6.5,33.5,35.5,22,10,18,27.5,9,6,2,16.5,3.5,5,9.5,5,17,6,18.5];
const adniCluPred=[.012,.005,.01,.013,.01,.004,.008,.004,.006,.027,.01,.003,.008,.005,.01,.015,.005,.007,.023,.003,.015,.005,.013,.006,.004,.006,.001,.028,.015,.013,.006,.005,.005,.01,.028,.04,.02,.002,.025,.05,.003,.008,.005,.003,.02,.005,.008,.008,.01,.01,.02,.01];
const adniCluAvg=[.027,.05,.018,.025,.012,.022,.018,.03,.015,.068,.072,.058,.083,.05,.082,.072,.09,.088,.085,.013,.017,.012,.02,.01,.035,.03,.005,.068,.06,.052,.138,.057,.05,.022,.088,.1,.062,.003,.05,.112,.003,.032,.03,.003,.025,.015,.01,.012,.02,.03,.035,.038];

// Axis tick values
const hcpMseTicks=[0.06,0.1,0.14,0.18,0.22];
const hcpPatTicks=[0.88,0.91,0.94,0.97];
const hcpDegTicks=[0,0.7,1.4,2.1,2.8,3.5];
const hcpStrTicks=[0,0.8,1.6,2.4,3.2];
const hcpCluTicks=[0,0.004,0.008,0.012,0.016];
const adniMseTicks=[0,0.15,0.3,0.45,0.6,0.75];
const adniPatTicks=[0.5,0.6,0.7,0.8,0.9,1];
const adniDegTicks=[0,3,6,9,12,15];
const adniStrTicks=[0,8,16,24,32,40];
const adniCluTicks=[0,0.03,0.06,0.09,0.12,0.15];
// violin axes ticks
const vHcpMseTicks=[0.08,0.12,0.16,0.20];
const vAdniMseTicks=[0,0.2,0.4,0.6,0.8];
const vHcpPatTicks=[0.88,0.90,0.92,0.94,0.96,0.98];
const vAdniPatTicks=[0.5,0.6,0.7,0.8,0.9,1.0];
const vHcpDegTicks=[-1,1,3,5];
const vHcpStrTicks=[0,1,2,3,4];
const vHcpCluTicks=[0,0.005,0.01,0.015,0.02];
const vAdniDegTicks=[-5,0,5,10,15];
const vAdniStrTicks=[-10,0,10,20,30,40];
const vAdniCluTicks=[-0.025,0.025,0.075,0.125,0.175];
// p-value exponents (p < 10^-k)
const hcpPExp=[20,30,30,10,20,20];   // MSE, PCC, Cos, Degree, Strength, Clustering
const adniPExp=[10,20,20,3,10,8];
// arrow annotations [individual, value]
const hcpMseArrows=[[199,0.2]];
const hcpPccArrows=[[208,0.897]];
const hcpCosArrows=[[208,0.893]];
const hcpStrArrows=[[48,3.04],[232,3.04],[339,3.04]];
const hcpCluArrows=[[48,0.016],[232,0.016],[337,0.016]];
const adniMseArrows=[[32.7,0.684]];
const adniPccArrows=[[31.7,0.594]];
const adniCosArrows=[[31.7,0.566]];
const adniDegArrows=[[12.3,10.75],[21.1,12.75],[34.2,13],[42,12.25]];
const adniStrArrows=[[27.5,32.5]];
const adniCluArrows=[[29.7,0.12]];

// ===================== DRAWING =====================
const W=747,H=614;
const SERIF="'Liberation Serif','Times New Roman',Times,serif";
const RED="#c00000";
const svg=d3.select("body").append("svg").attr("width",W).attr("height",H);
svg.append("rect").attr("width",W).attr("height",H).attr("fill","#fff");

const frames=[[14,3,360,97],[378,3,367,97],[14,113,364,190],[380,113,365,190],[14,317,361,279],[378,317,367,279]];
svg.selectAll(null).data(frames).join("rect")
  .attr("x",d=>d[0]).attr("y",d=>d[1]).attr("width",d=>d[2]).attr("height",d=>d[3])
  .attr("fill","none").attr("stroke","#d2d2d2").attr("stroke-width",1.6);

[["Magnitude",51],["Overall Pattern",222],["Graph Property",455]].forEach(([t,cy])=>{
  svg.append("text").attr("transform",`translate(9,${cy}) rotate(-90)`).attr("text-anchor","middle")
    .attr("dominant-baseline","central").attr("font-family",SERIF).attr("font-size",17).attr("fill","#111").text(t);
});
svg.append("text").attr("x",196).attr("y",609).attr("text-anchor","middle").attr("font-family",SERIF).attr("font-size",16).attr("fill","#111").text("(a) HCP dataset");
svg.append("text").attr("x",566).attr("y",609).attr("text-anchor","middle").attr("font-family",SERIF).attr("font-size",16).attr("fill","#111").text("(b) ADNI dataset");

function marker(g,m,cx,cy,s){
  if(!m) return;
  if(m==="c") g.append("circle").attr("cx",cx).attr("cy",cy).attr("r",s.mr).attr("fill",s.mc);
  else if(m==="d") g.append("line").attr("x1",cx-s.mr).attr("x2",cx+s.mr).attr("y1",cy).attr("y2",cy).attr("stroke",s.mc).attr("stroke-width",1.3);
  else if(m==="a") g.append("path").attr("transform",`translate(${cx},${cy})`).attr("d",d3.symbol(d3.symbolAsterisk,s.mr*s.mr*4)()).attr("fill","none").attr("stroke",s.mc).attr("stroke-width",0.9);
}
function drawSeries(g,data,x,y,s){
  const line=d3.line().x((d,i)=>x(i+1)).y(d=>y(d));
  g.append("path").attr("d",line(data)).attr("fill","none").attr("stroke",s.lc).attr("stroke-width",s.lw).attr("stroke-linejoin","round");
  if(s.m){
    const mg=g.append("g");
    data.forEach((d,i)=>marker(mg,s.m,x(i+1),y(d),s));
  }
}
function arrow(g,tx,ty){
  const sx=tx-15, sy=ty+5.5, ang=Math.atan2(ty-sy,tx-sx), hl=5.5, hw=2.8;
  const ex=tx-hl*Math.cos(ang), ey=ty-hl*Math.sin(ang);
  const px=-Math.sin(ang), py=Math.cos(ang);
  g.append("line").attr("x1",sx).attr("y1",sy).attr("x2",ex).attr("y2",ey).attr("stroke",RED).attr("stroke-width",2.2);
  g.append("polygon").attr("points",[[tx,ty],[ex+hw*px,ey+hw*py],[ex-hw*px,ey-hw*py]].map(p=>p.join(",")).join(" ")).attr("fill",RED);
}

function lineChart(o){
  const g=svg.append("g");
  const [bx0,by0,bx1,by1]=o.box;
  g.append("rect").attr("x",bx0).attr("y",by0).attr("width",bx1-bx0).attr("height",by1-by0)
    .attr("fill","#fff").attr("stroke","#6b6b6b").attr("stroke-width",1.3);
  const n=Math.max(o.pred.data.length,o.avg.data.length);
  const x=d3.scaleLinear().domain([1,n]).range(o.xr);
  const y=d3.scaleLinear().domain(o.yd).range(o.yr);
  g.append("g").selectAll("line").data(o.yTicks).join("line")
    .attr("x1",o.xr[0]-3).attr("x2",o.xr[1]+2).attr("y1",d=>y(d)).attr("y2",d=>y(d))
    .attr("stroke","#e4e4e4").attr("stroke-width",0.6);
  const ya=g.append("g").attr("transform",`translate(${o.tickRight},0)`)
    .call(d3.axisLeft(y).tickValues(o.yTicks).tickSize(0).tickPadding(0).tickFormat(d=>String(d)));
  ya.select(".domain").remove();
  ya.attr("font-family",SERIF).attr("font-size",5.6).selectAll("text").attr("fill","#555");
  const xa=g.append("g").attr("transform",`translate(0,${o.xLab-4})`)
    .call(d3.axisBottom(x).tickValues(o.xTicks).tickSize(0).tickPadding(0).tickFormat(d=>String(d)));
  xa.select(".domain").remove();
  xa.attr("font-family",SERIF).attr("font-size",5.6).selectAll("text").attr("fill","#555");
  g.append("text").attr("x",o.indX||(o.xr[0]+o.xr[1])/2).attr("y",o.indY).attr("text-anchor","middle")
    .attr("font-family",SERIF).attr("font-size",7.6).attr("fill","#333").text("Individuals");
  g.append("text").attr("transform",`translate(${o.ytX},${(o.yr[0]+o.yr[1])/2}) rotate(-90)`).attr("text-anchor","middle")
    .attr("dominant-baseline","central").attr("font-family",SERIF).attr("font-size",6.2).attr("fill","#333").text(o.ytitle);
  drawSeries(g,o.avg.data,x,y,o.avg.s);
  drawSeries(g,o.pred.data,x,y,o.pred.s);
  const ly=by0+9.5, lg=g.append("g").attr("font-family",SERIF).attr("font-size",7.3).attr("fill","#333");
  const tAvg=lg.append("text").attr("x",bx1-7).attr("y",ly).attr("dy","0.33em").attr("text-anchor","end").text("Averaged SC");
  const wA=tAvg.node().getComputedTextLength();
  const mA=bx1-7-wA-4.5;
  lg.append("line").attr("x1",mA-3.5).attr("x2",mA+3.5).attr("y1",ly).attr("y2",ly).attr("stroke",o.avg.s.lc).attr("stroke-width",Math.min(o.avg.s.lw,1.2));
  marker(lg,o.avg.s.m,mA,ly,o.avg.s);
  const tP=lg.append("text").attr("x",mA-10).attr("y",ly).attr("dy","0.33em").attr("text-anchor","end").text("MGCN-GAN predicted SC");
  const wP=tP.node().getComputedTextLength();
  const mP=mA-10-wP-4.5;
  lg.append("line").attr("x1",mP-3.5).attr("x2",mP+3.5).attr("y1",ly).attr("y2",ly).attr("stroke",o.pred.s.lc).attr("stroke-width",Math.min(o.pred.s.lw,1.4));
  marker(lg,o.pred.s.m,mP,ly,o.pred.s);
  (o.arrows||[]).forEach(([i,v])=>arrow(g,x(i),y(v)));
}

let clipId=0;
function violin(o){
  const g=svg.append("g");
  const [bx0,by0,bx1,by1]=o.box;
  g.append("rect").attr("x",bx0).attr("y",by0).attr("width",bx1-bx0).attr("height",by1-by0)
    .attr("fill","#fff").attr("stroke","#8c8c8c").attr("stroke-width",1);
  const y=d3.scaleLinear().domain(o.yd).range(o.yr);
  const ya=g.append("g").attr("transform",`translate(${o.tickRight},0)`)
    .call(d3.axisLeft(y).tickValues(o.ticks).tickSize(0).tickPadding(0).tickFormat(d3.format(o.fmt)));
  ya.select(".domain").remove();
  ya.attr("font-family",SERIF).attr("font-size",8.6).selectAll("text").attr("fill","#222");
  const id="vc"+(clipId++);
  g.append("clipPath").attr("id",id).append("rect").attr("x",bx0).attr("y",by0).attr("width",bx1-bx0).attr("height",by1-by0);
  const vg=g.append("g").attr("clip-path",`url(#${id})`);
  const sets=o.sets.map(s=>{
    const v=s.data, nn=v.length, bw=o.bwf*d3.deviation(v)*Math.pow(nn,-0.2);
    const lo=d3.min(v)-2*bw, hi=d3.max(v)+2*bw;
    const pts=d3.range(121).map(k=>{const t=lo+(hi-lo)*k/120;
      return [t,d3.mean(v,u=>Math.exp(-0.5*((t-u)/bw)**2))/(bw*Math.sqrt(2*Math.PI))];});
    return {...s,pts,bw};
  });
  const maxD=d3.max(sets,s=>d3.max(s.pts,p=>p[1]));
  const ws=o.hw/maxD;
  sets.forEach(s=>{
    const area=d3.area().y(p=>y(p[0])).x0(p=>s.cx-p[1]*ws).x1(p=>s.cx+p[1]*ws).curve(d3.curveBasis);
    vg.append("path").attr("d",area(s.pts)).attr("fill",s.fill).attr("stroke",s.stroke).attr("stroke-width",0.7);
    const sorted=s.data.slice().sort(d3.ascending);
    const q1=d3.quantileSorted(sorted,0.25), q3=d3.quantileSorted(sorted,0.75), iqr=q3-q1;
    const wlo=d3.min(sorted.filter(v=>v>=q1-1.5*iqr)), whi=d3.max(sorted.filter(v=>v<=q3+1.5*iqr));
    vg.append("line").attr("x1",s.cx).attr("x2",s.cx).attr("y1",y(wlo)).attr("y2",y(whi)).attr("stroke","#6a6a6a").attr("stroke-width",0.6);
    vg.append("line").attr("x1",s.cx).attr("x2",s.cx).attr("y1",y(q1)).attr("y2",y(q3)).attr("stroke","#555").attr("stroke-width",1.5);
  });
  const t=g.append("text").attr("x",o.px).attr("y",o.py).attr("fill",RED).attr("font-family",SERIF).attr("font-weight","bold").attr("font-size",9.5);
  t.append("tspan").attr("font-style","italic").text("p");
  t.append("tspan").text(" < 10");
  t.append("tspan").attr("font-size",6.3).attr("dy",-4).text("\u2212"+o.exp);
}

const S={
  hMseP:{lc:"#f7941d",lw:1.1,m:"c",mr:0.6,mc:"#ef7f00"},
  hMseA:{lc:"#d8d8d8",lw:0.7,m:"c",mr:0.8,mc:"#a0a0a0"},
  hPccP:{lc:"#ffc4da",lw:0.6,m:"c",mr:0.9,mc:"#ff6fa8"},
  hPccA:{lc:"#d3d3d3",lw:0.6,m:"c",mr:0.8,mc:"#7f7f7f"},
  hCosP:{lc:"#ffc000",lw:1.2,m:null},
  hDegP:{lc:"#c6b6f8",lw:0.7,m:"c",mr:0.8,mc:"#7d60ea"},
  hDegA:{lc:"#d6d6d6",lw:0.6,m:"c",mr:0.8,mc:"#9a9a9a"},
  hStrP:{lc:"#d8ecca",lw:0.5,m:"c",mr:0.9,mc:"#5aa82a"},
  hStrA:{lc:"#dadada",lw:0.6,m:"c",mr:0.8,mc:"#a6a6a6"},
  hCluP:{lc:"#7fb1e3",lw:0.8,m:"c",mr:0.7,mc:"#3a7cc6"},
  hCluA:{lc:"#d6d6d6",lw:0.6,m:"c",mr:0.8,mc:"#a0a0a0"},
  aMseP:{lc:"#f7941d",lw:1.4,m:"d",mr:1.5,mc:"#f7941d"},
  aMseA:{lc:"#d2d2d2",lw:1.1,m:"c",mr:2.3,mc:"#c6c6c6"},
  aPccP:{lc:"#f6a9bd",lw:1.1,m:"a",mr:2.3,mc:"#f08aa6"},
  aPccA:{lc:"#a8a8a8",lw:1.1,m:"c",mr:2.5,mc:"#a6a6a6"},
  aCosP:{lc:"#ffc000",lw:1.3,m:"d",mr:1.6,mc:"#f5b400"},
  aCosA:{lc:"#b8b8b8",lw:1.1,m:"c",mr:2.4,mc:"#b3b3b3"},
  aDegP:{lc:"#a08cf8",lw:1.5,m:null},
  aDegA:{lc:"#5c5c5c",lw:1.1,m:null},
  aStrP:{lc:"#70b83a",lw:1.5,m:null},
  aStrA:{lc:"#5c5c5c",lw:1.1,m:null},
  aCluP:{lc:"#5b9bd5",lw:1.5,m:null},
  aCluA:{lc:"#5c5c5c",lw:1.1,m:null}
};
const V={
  orange:{fill:"#f8cbad",stroke:"#d6a282"}, gray:{fill:"#c9c9c9",stroke:"#8f8f8f"},
  pink:{fill:"#f3c6d9",stroke:"#c996ad"}, gold:{fill:"#f3d78f",stroke:"#c8ab62"},
  purple:{fill:"#a790f3",stroke:"#8470d8"}, green:{fill:"#c6e0b4",stroke:"#92b97a"},
  blue:{fill:"#bdd7ee",stroke:"#8eaed0"}
};

const hx=[42,288];
lineChart({box:[16,4,293,95],xr:hx,yd:[0.06,0.22],yr:[76,19],yTicks:hcpMseTicks,xTicks:hcpXTicks,tickRight:37,ytX:23,ytitle:"MSE",xLab:85,indY:92.5,
  pred:{data:hcpMsePred,s:S.hMseP},avg:{data:hcpMseAvg,s:S.hMseA},arrows:hcpMseArrows});
lineChart({box:[16,118,293,205],xr:hx,yd:[0.88,0.97],yr:[189,130],yTicks:hcpPatTicks,xTicks:hcpXTicks,tickRight:37,ytX:23,ytitle:"PCC",xLab:194,indY:202.5,
  pred:{data:hcpPccPred,s:S.hPccP},avg:{data:hcpPccAvg,s:S.hPccA},arrows:hcpPccArrows});
lineChart({box:[16,210,293,298],xr:hx,yd:[0.88,0.97],yr:[279,223],yTicks:hcpPatTicks,xTicks:hcpXTicks,tickRight:37,ytX:23,ytitle:"Cosine Similarity",xLab:286,indY:295.5,
  pred:{data:hcpCosPred,s:S.hCosP},avg:{data:hcpCosAvg,s:S.hPccA},arrows:hcpCosArrows});
lineChart({box:[18,322,295,410],xr:hx,yd:[0,3.5],yr:[393,337],yTicks:hcpDegTicks,xTicks:hcpXTicks,tickRight:37,ytX:23,ytitle:"Degree Error",xLab:400.5,indY:407.8,
  pred:{data:hcpDegPred,s:S.hDegP},avg:{data:hcpDegAvg,s:S.hDegA}});
lineChart({box:[18,414,295,500],xr:hx,yd:[0,3.2],yr:[485,426],yTicks:hcpStrTicks,xTicks:hcpXTicks,tickRight:37,ytX:23,ytitle:"Strength Error",xLab:491,indY:498.3,
  pred:{data:hcpStrPred,s:S.hStrP},avg:{data:hcpStrAvg,s:S.hStrA},arrows:hcpStrArrows});
lineChart({box:[18,503,295,592],xr:hx,yd:[0,0.016],yr:[574,521],yTicks:hcpCluTicks,xTicks:hcpXTicks,tickRight:37,ytX:23,ytitle:"Clustering Error",xLab:582,indY:589.5,
  pred:{data:hcpCluPred,s:S.hCluP},avg:{data:hcpCluAvg,s:S.hCluA},arrows:hcpCluArrows});

lineChart({box:[383,4,659,97],xr:[414,652],yd:[0,0.75],yr:[76,19],yTicks:adniMseTicks,xTicks:adniXTicks,tickRight:407,ytX:390,ytitle:"MSE",xLab:84,indY:93,
  pred:{data:adniMsePred,s:S.aMseP},avg:{data:adniMseAvg,s:S.aMseA},arrows:adniMseArrows});
lineChart({box:[384,119,660,207],xr:[412,653],yd:[0.5,1],yr:[184,131],yTicks:adniPatTicks,xTicks:adniXTicksOdd,tickRight:405,ytX:390,ytitle:"PCC",xLab:194,indY:202,
  pred:{data:adniPccPred,s:S.aPccP},avg:{data:adniPccAvg,s:S.aPccA},arrows:adniPccArrows});
lineChart({box:[384,210,660,300],xr:[412,653],yd:[0.5,1],yr:[275,222],yTicks:adniPatTicks,xTicks:adniXTicksOdd,tickRight:405,ytX:390,ytitle:"Cosine Similarity",xLab:285,indY:296,
  pred:{data:adniCosPred,s:S.aCosP},avg:{data:adniCosAvg,s:S.aCosA},arrows:adniCosArrows});
lineChart({box:[384,322,660,410],xr:[407,651],yd:[0,15],yr:[394,334],yTicks:adniDegTicks,xTicks:adniXTicks,tickRight:403,ytX:390,ytitle:"Degree Error",xLab:403,indY:408.5,
  pred:{data:adniDegPred,s:S.aDegP},avg:{data:adniDegAvg,s:S.aDegA},arrows:adniDegArrows});
lineChart({box:[384,414,660,501],xr:[407,651],yd:[0,40],yr:[485,426],yTicks:adniStrTicks,xTicks:adniXTicks,tickRight:403,ytX:390,ytitle:"Strength Error",xLab:493.5,indY:499.8,
  pred:{data:adniStrPred,s:S.aStrP},avg:{data:adniStrAvg,s:S.aStrA},arrows:adniStrArrows});
lineChart({box:[384,503,660,592],xr:[414,650],yd:[0,0.15],yr:[576,516],yTicks:adniCluTicks,xTicks:adniXTicks,tickRight:406,ytX:390,ytitle:"Clustering Error",xLab:584,indY:589.8,
  pred:{data:adniCluPred,s:S.aCluP},avg:{data:adniCluAvg,s:S.aCluA},arrows:adniCluArrows});

const HB=3.2, AB=1.9;
violin({box:[311,15,373,86],yd:[0.08,0.20],yr:[71,18],ticks:vHcpMseTicks,fmt:".2f",tickRight:307,hw:15,bwf:HB,px:323,py:35,exp:hcpPExp[0],
  sets:[{data:hcpMsePred,cx:328,...V.orange},{data:hcpMseAvg,cx:364,...V.gray}]});
violin({box:[308,123,377,198],yd:[0.88,0.98],yr:[197,128],ticks:vHcpPatTicks,fmt:".2f",tickRight:306,hw:15,bwf:HB,px:318,py:180,exp:hcpPExp[1],
  sets:[{data:hcpPccPred,cx:329,...V.pink},{data:hcpPccAvg,cx:366,...V.gray}]});
violin({box:[308,217,377,292],yd:[0.88,0.98],yr:[287,221],ticks:vHcpPatTicks,fmt:".2f",tickRight:306,hw:15,bwf:HB,px:322,py:276,exp:hcpPExp[2],
  sets:[{data:hcpCosPred,cx:329,...V.gold},{data:hcpCosAvg,cx:366,...V.gray}]});
violin({box:[307,325,372,402],yd:[-1,5],yr:[399,343],ticks:vHcpDegTicks,fmt:"d",tickRight:304,hw:15,bwf:HB,px:313,py:343,exp:hcpPExp[3],
  sets:[{data:hcpDegPred,cx:323,...V.purple},{data:hcpDegAvg,cx:358,...V.gray}]});
violin({box:[307,419,372,493],yd:[0,4],yr:[484,423],ticks:vHcpStrTicks,fmt:"d",tickRight:304,hw:15,bwf:HB,px:313,py:450,exp:hcpPExp[4],
  sets:[{data:hcpStrPred,cx:323,...V.green},{data:hcpStrAvg,cx:364,...V.gray}]});
violin({box:[317,513,373,583],yd:[0,0.02],yr:[577,516],ticks:vHcpCluTicks,fmt:".3f",tickRight:315,hw:15,bwf:HB,px:325,py:538,exp:hcpPExp[5],
  sets:[{data:hcpCluPred,cx:333,...V.blue},{data:hcpCluAvg,cx:366,...V.gray}]});

violin({box:[674,14,743,88],yd:[0,0.8],yr:[86,20],ticks:vAdniMseTicks,fmt:".1f",tickRight:671,hw:15,bwf:AB,px:685,py:30,exp:adniPExp[0],
  sets:[{data:adniMsePred,cx:693,...V.orange},{data:adniMseAvg,cx:732,...V.gray}]});
violin({box:[675,123,742,197],yd:[0.5,1],yr:[195,125],ticks:vAdniPatTicks,fmt:".1f",tickRight:671,hw:17,bwf:AB,px:687,py:174,exp:adniPExp[1],
  sets:[{data:adniPccPred,cx:692,...V.pink},{data:adniPccAvg,cx:734,...V.gray}]});
violin({box:[675,217,742,292],yd:[0.5,1],yr:[287,227],ticks:vAdniPatTicks,fmt:".1f",tickRight:671,hw:17,bwf:AB,px:687,py:266,exp:adniPExp[2],
  sets:[{data:adniCosPred,cx:692,...V.gold},{data:adniCosAvg,cx:734,...V.gray}]});
violin({box:[674,333,743,404],yd:[-5,15],yr:[403,336],ticks:vAdniDegTicks,fmt:"d",tickRight:671,hw:17,bwf:AB,px:685,py:348,exp:adniPExp[3],
  sets:[{data:adniDegPred,cx:692,...V.purple},{data:adniDegAvg,cx:733,...V.gray}]});
violin({box:[675,422,742,495],yd:[-10,40],yr:[493,424],ticks:vAdniStrTicks,fmt:"d",tickRight:671,hw:15,bwf:AB,px:685,py:443,exp:adniPExp[4],
  sets:[{data:adniStrPred,cx:692,...V.green},{data:adniStrAvg,cx:733,...V.gray}]});
violin({box:[677,513,742,580],yd:[-0.025,0.175],yr:[578,514],ticks:vAdniCluTicks,fmt:".3f",tickRight:675,hw:15,bwf:AB,px:688,py:535,exp:adniPExp[5],
  sets:[{data:adniCluPred,cx:695,...V.blue},{data:adniCluAvg,cx:733,...V.gray}]});
</script>
</body></html>
